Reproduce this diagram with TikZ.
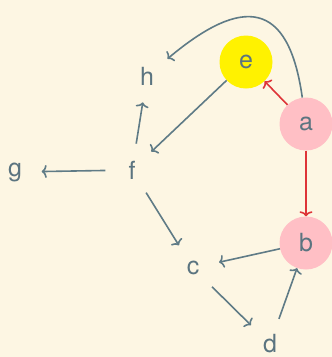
\documentclass[tikz,border=0pt]{standalone}
\usepackage{fontspec}
\setmainfont{TeX Gyre Heros}
\usetikzlibrary{arrows.meta}
\definecolor{bg}{HTML}{FDF6E3}
\definecolor{txt}{HTML}{5B7480}
\definecolor{ln}{HTML}{5F7B86}
\definecolor{rd}{HTML}{DE3438}
\definecolor{pk}{HTML}{FFBFC5}
\definecolor{yl}{HTML}{FFF200}
\begin{document}
\begin{tikzpicture}[x=1pt,y=-1pt,
  vtx/.style={circle, minimum size=53pt, inner sep=0pt, text=txt, font=\fontsize{25}{25}\selectfont},
  edge/.style={draw=ln, line width=1.6pt, -{To[length=5pt,width=13pt]}},
  redge/.style={edge, draw=rd}]
\fill[bg] (0,0) rectangle (332,357);
\useasboundingbox (0,0) rectangle (332,357);
\node[vtx, fill=pk] (a) at (306,124) {a};
\node[vtx, fill=pk] (b) at (306,243) {b};
\node[vtx, fill=yl] (e) at (246,62) {e};
\node[vtx] (h) at (147,76) {h};
\node[vtx] (g) at (15,172) {g};
\node[vtx] (f) at (132,170) {f};
\node[vtx] (c) at (193,268) {c};
\node[vtx] (d) at (270,344) {d};
\draw[redge] (a) -- (e);
\draw[redge] (a) -- (b);
\draw[edge] (a) to[out=98,in=40,looseness=1.8] (h);
\draw[edge] (e) -- (f);
\draw[edge] (f) -- (h);
\draw[edge] (f) -- (g);
\draw[edge] (f) -- (c);
\draw[edge] (b) -- (c);
\draw[edge] (c) -- (d);
\draw[edge] (d) -- (b);
\end{tikzpicture}
\end{document}
